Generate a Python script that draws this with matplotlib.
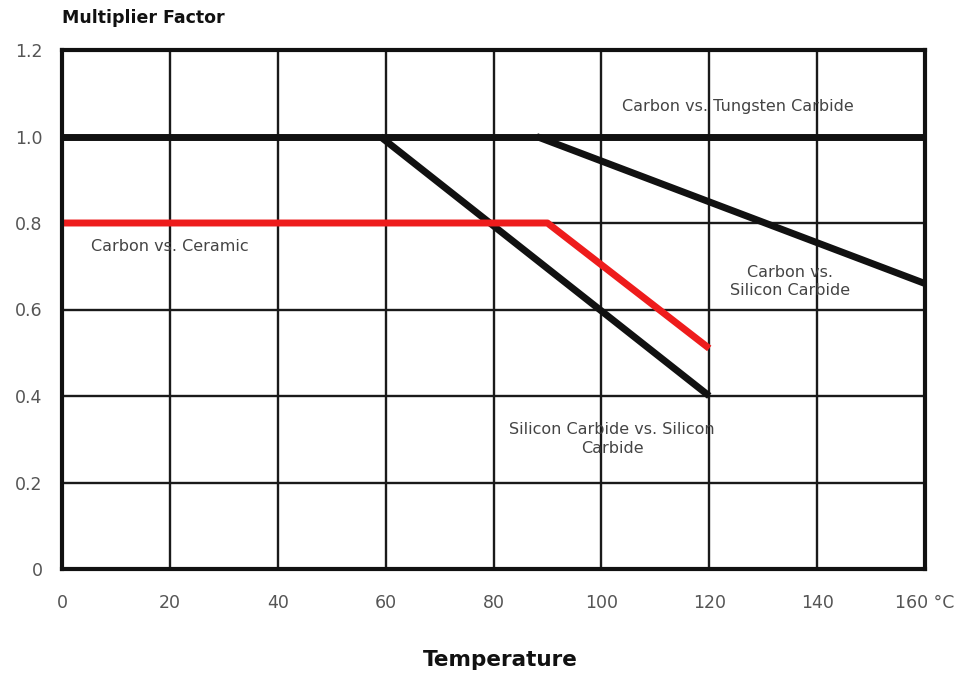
import matplotlib
matplotlib.use("Agg")
import matplotlib.pyplot as plt

# Data
x_ticks = [0, 20, 40, 60, 80, 100, 120, 140, 160]
x_tick_labels = ["0", "20", "40", "60", "80", "100", "120", "140", "160 °C"]
y_ticks = [0, 0.2, 0.4, 0.6, 0.8, 1.0, 1.2]
y_tick_labels = ["0", "0.2", "0.4", "0.6", "0.8", "1.0", "1.2"]

tungsten_x = [0, 160]
tungsten_y = [1.0, 1.0]
sic_sic_x = [59, 120]
sic_sic_y = [1.0, 0.4]
carbon_sic_x = [88, 160]
carbon_sic_y = [1.0, 0.66]
ceramic_x = [0, 90, 120]
ceramic_y = [0.8, 0.8, 0.51]

plt.rcParams['font.family'] = ['DejaVu Sans']

fig = plt.figure(figsize=(9.74, 6.74), dpi=100)
ax = fig.add_axes([62/974, 1-569/674, (925-62)/974, (569-50)/674])
ax.set_xlim(0, 160)
ax.set_ylim(0, 1.2)

ax.set_xticks(x_ticks)
ax.set_xticklabels(x_tick_labels)
ax.set_yticks(y_ticks)
ax.set_yticklabels(y_tick_labels)
ax.tick_params(axis="x", length=0, labelsize=12.5, colors="#555555", pad=18)
ax.tick_params(axis="y", length=0, labelsize=12.5, colors="#555555", pad=14)
ax.grid(True, color="#1a1a1a", linewidth=1.7)
ax.set_axisbelow(True)
for s in ax.spines.values():
    s.set_linewidth(3)
    s.set_color("#111111")

ax.plot(tungsten_x, tungsten_y, color="#111111", linewidth=5, solid_capstyle="butt")
ax.plot(sic_sic_x, sic_sic_y, color="#111111", linewidth=5, solid_capstyle="butt")
ax.plot(carbon_sic_x, carbon_sic_y, color="#111111", linewidth=5, solid_capstyle="butt")
ax.plot(ceramic_x, ceramic_y, color="#ee1c1c", linewidth=5, solid_capstyle="butt")

tc = "#444444"
fs = 11.5
ax.text(125.3, 1.069, "Carbon vs. Tungsten Carbide", ha="center", va="center", fontsize=fs, color=tc)
ax.text(20, 0.745, "Carbon vs. Ceramic", ha="center", va="center", fontsize=fs, color=tc)
ax.text(135, 0.665, "Carbon vs.\nSilicon Carbide", ha="center", va="center", fontsize=fs, color=tc, linespacing=1.3)
ax.text(102, 0.30, "Silicon Carbide vs. Silicon\nCarbide", ha="center", va="center", fontsize=fs, color=tc, linespacing=1.3)

fig.text(62/974, 1-18/674, "Multiplier Factor", ha="left", va="center", fontsize=12.5, fontweight="bold", color="#111111")
fig.text(500/974, 1-660/674, "Temperature", ha="center", va="center", fontsize=15.5, fontweight="bold", color="#111111")

fig.savefig("out.png", dpi=100)
